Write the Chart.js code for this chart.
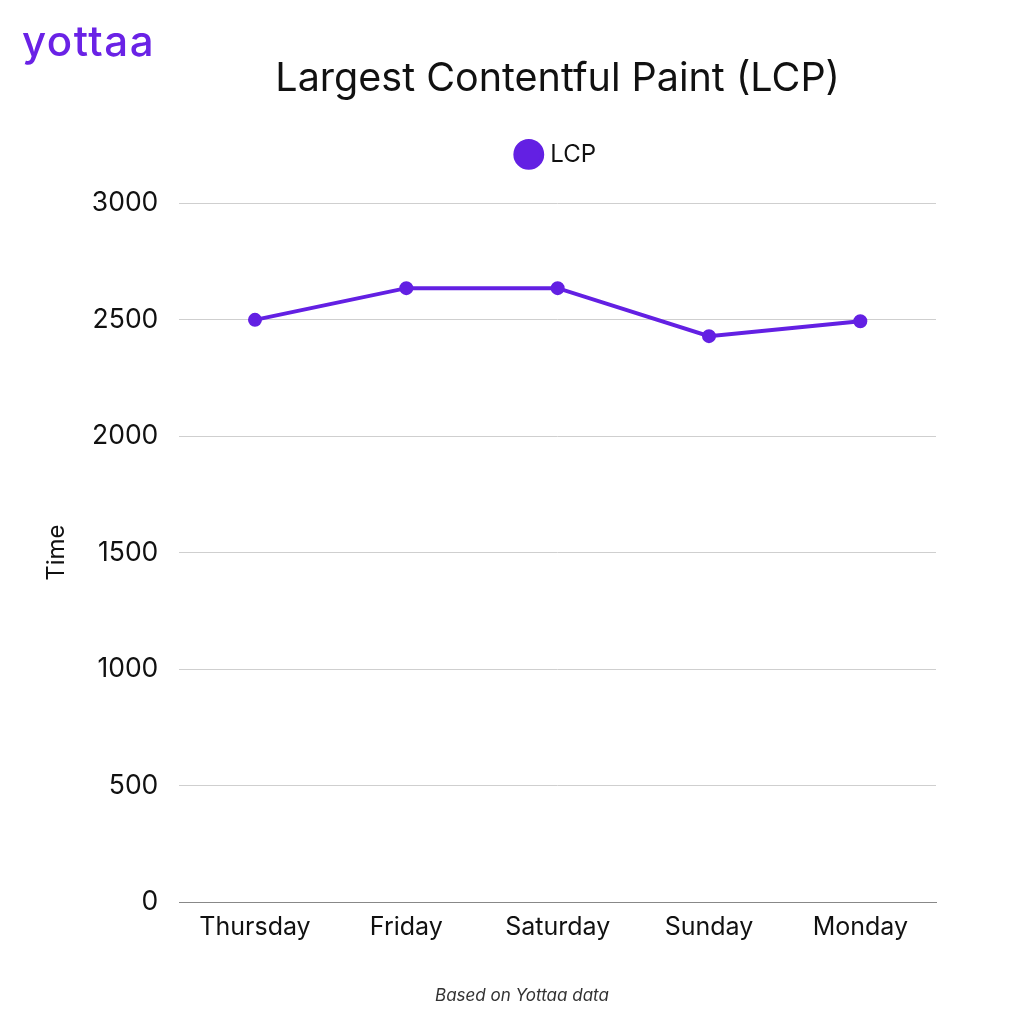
<!DOCTYPE html>
<html>
<head>
<meta charset="utf-8">
<script src="https://cdn.jsdelivr.net/npm/chart.js@4.4.1/dist/chart.umd.min.js"></script>
<style>
  html, body { margin: 0; padding: 0; background: #fff; }
  #wrap { position: relative; width: 1024px; height: 1024px; }
  #logo { position: absolute; left: 22px; top: 15px; font-family: Inter, sans-serif; font-weight: 500;
          font-size: 42px; color: #6a22e6; letter-spacing: 1.5px; }
  #footer { position: absolute; left: 0; width: 1044px; top: 985px; text-align: center;
            font-family: Inter, sans-serif; font-style: italic; font-size: 17px; color: #333; }
</style>
</head>
<body>
<div id="wrap">
  <canvas id="myChart" width="1024" height="1024"></canvas>
  <div id="logo">yottaa</div>
  <div id="footer">Based on Yottaa data</div>
</div>
<script>
var days = ['Thursday', 'Friday', 'Saturday', 'Sunday', 'Monday']
var lcpValues = [2500, 2636, 2636, 2430, 2494]
var yTicks = [0, 500, 1000, 1500, 2000, 2500, 3000]

var purple = '#6320e3'
var fontFamily = 'Inter, sans-serif'

// extra room under the legend
var legendGap = {
  id: 'legendGap',
  beforeInit: function(chart) {
    var origFit = chart.legend.fit
    chart.legend.fit = function() {
      origFit.bind(chart.legend)()
      this.height += 27
    }
  }
}

var ctx = document.getElementById('myChart').getContext('2d');

var lcpData = {
  label: 'LCP',
  data: lcpValues,
  borderColor: purple,
  backgroundColor: purple,
  borderWidth: 4,
  pointRadius: 5,
  pointHoverRadius: 5,
  lineTension: 0,
}

var lineChart = new Chart(ctx, {
  type: 'line',
  data: {
    labels: days,
    datasets: [lcpData]
  },
  plugins: [legendGap],
  options: {
    responsive: false,
    animation: false,
    layout: { padding: { top: 55, left: 40, right: 88, bottom: 80 } },
    plugins: {
      title: {
        display: true,
        text: 'Largest Contentful Paint (LCP)',
        fullSize: false,
        color: '#111',
        font: { family: fontFamily, size: 39.5, weight: 'normal' },
        padding: { top: 0, bottom: 0 }
      },
      legend: {
        fullSize: false,
        labels: {
          usePointStyle: true,
          pointStyle: 'circle',
          boxWidth: 19,
          boxHeight: 19,
          color: '#111',
          font: { family: fontFamily, size: 24 },
          padding: 40
        }
      },
      tooltip: { enabled: false }
    },
    scales: {
      x: {
        offset: true,
        grid: { display: false },
        border: { color: '#888' },
        ticks: { color: '#111', font: { family: fontFamily, size: 25 }, padding: 2 }
      },
      y: {
        min: 0,
        max: 3000,
        afterBuildTicks: function(axis) {
          axis.ticks = yTicks.map(function(v) { return { value: v } })
        },
        grid: { color: '#cfcfcf', drawTicks: false },
        border: { display: false },
        title: {
          display: true,
          text: 'Time',
          color: '#111',
          font: { family: fontFamily, size: 24 },
          padding: { top: 2, bottom: 0 }
        },
        ticks: {
          color: '#111',
          font: { family: fontFamily, size: 26.5 },
          padding: 21,
          callback: function(value) { return String(value) }
        }
      }
    }
  }
});
</script>
</body>
</html>
